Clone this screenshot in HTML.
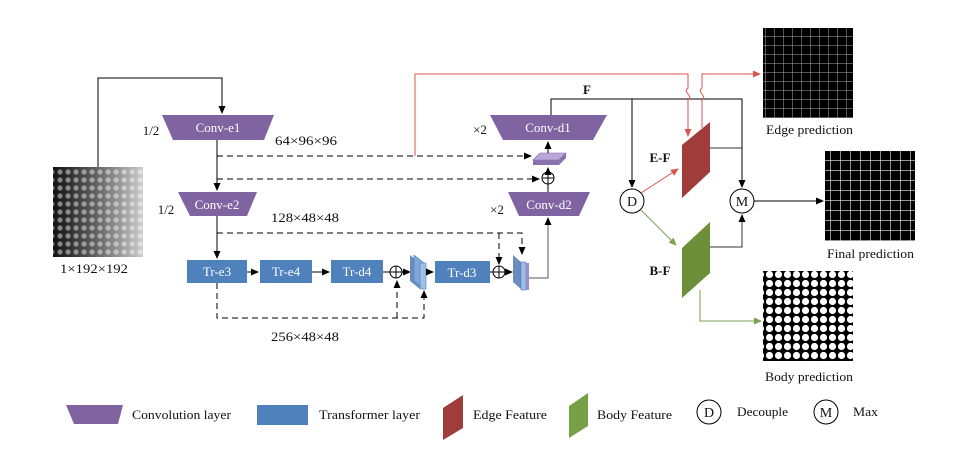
<!DOCTYPE html>
<html><head><meta charset="utf-8"><style>
html,body{margin:0;padding:0;background:#fff}
svg{display:block}
text{font-family:"Liberation Serif",serif;font-size:13px;fill:#111}
</style></head><body>
<svg width="965" height="461" viewBox="0 0 965 461" xmlns="http://www.w3.org/2000/svg">
<defs>
<marker id="a" markerWidth="8" markerHeight="8" refX="7" refY="4" orient="auto" markerUnits="userSpaceOnUse"><path d="M0,0.5 L8,4 L0,7.5z" fill="#000"/></marker>
<marker id="ar" markerWidth="8" markerHeight="8" refX="7" refY="4" orient="auto" markerUnits="userSpaceOnUse"><path d="M0,0.5 L8,4 L0,7.5z" fill="#d9534f"/></marker>
<marker id="ag" markerWidth="8" markerHeight="8" refX="7" refY="4" orient="auto" markerUnits="userSpaceOnUse"><path d="M0,0.5 L8,4 L0,7.5z" fill="#7aa050"/></marker>
<linearGradient id="gin" x1="0" x2="1"><stop offset="0" stop-color="#111"/><stop offset="0.5" stop-color="#666"/><stop offset="1" stop-color="#ccc"/></linearGradient>
<pattern id="pin" width="8" height="8" patternUnits="userSpaceOnUse"><circle cx="4" cy="4" r="2.6" fill="#fff" opacity="0.45"/></pattern>
<pattern id="pe" width="9" height="9" patternUnits="userSpaceOnUse"><rect width="9" height="9" fill="#000"/><path d="M0,0H9M0,0V9" stroke="#aaa" stroke-width="1"/></pattern>
<pattern id="pf" width="10" height="10" patternUnits="userSpaceOnUse"><rect width="10" height="10" fill="#000"/><path d="M0,0H10M0,0V10" stroke="#eee" stroke-width="1.2"/></pattern>
<pattern id="pb" width="9" height="9" patternUnits="userSpaceOnUse"><rect width="9" height="9" fill="#000"/><circle cx="4.5" cy="4.5" r="3.6" fill="#fff"/></pattern>
</defs>

<!-- input -->
<rect x="53" y="167" width="90" height="90" fill="url(#gin)"/>
<rect x="53" y="167" width="90" height="90" fill="url(#pin)"/>
<text x="60" y="273" textLength="68" lengthAdjust="spacingAndGlyphs">1×192×192</text>
<path d="M98,167 V78 H222 V113" fill="none" stroke="#000" marker-end="url(#a)"/>

<!-- conv e1 -->
<polygon points="162,115 274,115 264,140 173,140" fill="#8064a2"/>
<text x="218" y="132" text-anchor="middle" style="fill:#fff">Conv-e1</text>
<text x="151" y="135" text-anchor="middle">1/2</text>
<text x="275" y="145" textLength="62" lengthAdjust="spacingAndGlyphs">64×96×96</text>
<path d="M217,140 V190" stroke="#000" marker-end="url(#a)"/>
<path d="M217,156 H531" stroke="#000" stroke-dasharray="6,4" marker-end="url(#a)"/>
<path d="M217,179 H539" stroke="#000" stroke-dasharray="6,4" marker-end="url(#a)"/>

<!-- conv e2 -->
<polygon points="178,192 257,192 247,216 190,216" fill="#8064a2"/>
<text x="217" y="209" text-anchor="middle" style="fill:#fff">Conv-e2</text>
<text x="166" y="214" text-anchor="middle">1/2</text>
<text x="271" y="222" textLength="68" lengthAdjust="spacingAndGlyphs">128×48×48</text>
<path d="M217,216 V258" stroke="#000" marker-end="url(#a)"/>
<path d="M217,233 H522 V254" fill="none" stroke="#000" stroke-dasharray="6,4" marker-end="url(#a)"/>
<path d="M499,233 V264" fill="none" stroke="#000" stroke-dasharray="6,4" marker-end="url(#a)"/>

<!-- transformer row -->
<rect x="187" y="260" width="60" height="23" fill="#4f81bd"/><text x="217" y="276" text-anchor="middle" style="fill:#fff">Tr-e3</text>
<rect x="260" y="260" width="52" height="23" fill="#4f81bd"/><text x="286" y="276" text-anchor="middle" style="fill:#fff">Tr-e4</text>
<rect x="331" y="260" width="52" height="23" fill="#4f81bd"/><text x="357" y="276" text-anchor="middle" style="fill:#fff">Tr-d4</text>
<path d="M247,272 H258" stroke="#000" marker-end="url(#a)"/>
<path d="M312,272 H329" stroke="#000" marker-end="url(#a)"/>
<path d="M383,272 H390" stroke="#000"/>
<circle cx="396" cy="272" r="6" fill="#fff" stroke="#000"/><path d="M390,272H402M396,266V278" stroke="#000"/>
<path d="M402,272 H410" stroke="#000" marker-end="url(#a)"/>
<polygon points="410,255 420,263 420,289 410,281" fill="#6a8cbf"/>
<polygon points="414,255 424,263 424,289 414,281" fill="#7fa6d9" stroke="#4f81bd" stroke-width="0.6"/>
<rect x="420" y="263" width="6" height="26" fill="#9cbfe8" stroke="#4f81bd" stroke-width="0.6"/>
<path d="M426,272 H433" stroke="#000" marker-end="url(#a)"/>
<rect x="435" y="261" width="55" height="22" fill="#4f81bd"/><text x="462" y="277" text-anchor="middle" style="fill:#fff">Tr-d3</text>
<path d="M490,272 H493" stroke="#000"/>
<circle cx="499" cy="272" r="6" fill="#fff" stroke="#000"/><path d="M493,272H505M499,266V278" stroke="#000"/>
<path d="M505,272 H512" stroke="#000" marker-end="url(#a)"/>
<polygon points="513,255 522,263 522,290 513,282" fill="#6a8cbf"/>
<rect x="521" y="262" width="5" height="28" fill="#9cbfe8" stroke="#4f81bd" stroke-width="0.6"/>
<rect x="526" y="263" width="3" height="27" fill="#a58bc9"/>
<path d="M529,278 H548 V218" fill="none" stroke="#555" marker-end="url(#a)"/>
<path d="M217,283 V318 H424 V291" fill="none" stroke="#000" stroke-dasharray="6,4" marker-end="url(#a)"/>
<path d="M397,318 V281" fill="none" stroke="#000" stroke-dasharray="6,4" marker-end="url(#a)"/>
<text x="271" y="341" textLength="68" lengthAdjust="spacingAndGlyphs">256×48×48</text>

<!-- decoder -->
<polygon points="508,192 590,192 579,216 519,216" fill="#8064a2"/>
<text x="549" y="209" text-anchor="middle" style="fill:#fff">Conv-d2</text>
<text x="497" y="214" text-anchor="middle">×2</text>
<path d="M548,192 V184" stroke="#000"/>
<circle cx="548" cy="178" r="6" fill="#fff" stroke="#000"/><path d="M542,178H554M548,172V184" stroke="#000"/>
<path d="M548,172 V168" stroke="#000" marker-end="url(#a)"/>
<polygon points="533,160 540,153 566,153 559,160" fill="#b9a7d8" stroke="#8064a2" stroke-width="0.6"/>
<polygon points="533,160 559,160 566,153 566,158 559,165 533,165" fill="#8a72b0"/>
<path d="M548,153 V142" stroke="#000" marker-end="url(#a)"/>
<polygon points="490,115 607,115 593,140 503,140" fill="#8064a2"/>
<text x="548" y="132" text-anchor="middle" style="fill:#fff">Conv-d1</text>
<text x="480" y="134" text-anchor="middle">×2</text>
<path d="M551,115 V99 H742 V187" fill="none" stroke="#000" marker-end="url(#a)"/>
<path d="M632,99 V187" fill="none" stroke="#000" marker-end="url(#a)"/>
<text x="587" y="94" text-anchor="middle" style="font-weight:bold">F</text>

<!-- red lines -->
<path d="M415,156 V74 H688 V88 C682,92 694,96 688,100 V136" fill="none" stroke="#d9534f" marker-end="url(#ar)"/>
<path d="M702,128 V100 C708,96 696,92 702,88 V74 H760" fill="none" stroke="#d9534f" marker-end="url(#ar)"/>

<!-- E-F, B-F -->
<polygon points="682,145 710,122 710,172 682,198" fill="#a03c3a"/>
<text x="660" y="162" text-anchor="middle" style="font-weight:bold">E-F</text>
<path d="M710,148 H742" stroke="#333"/>
<polygon points="682,248 710,222 710,273 682,298" fill="#6e8f3a"/>
<text x="660" y="275" text-anchor="middle" style="font-weight:bold">B-F</text>
<path d="M710,247 H742 V215" fill="none" stroke="#333" marker-end="url(#a)"/>
<path d="M700,290 V321 H761" fill="none" stroke="#7aa050" marker-end="url(#ag)"/>

<circle cx="632" cy="201" r="12" fill="#fff" stroke="#000"/><text x="632" y="206" text-anchor="middle" style="font-size:14px">D</text>
<path d="M641,193 L678,169" stroke="#d9534f" marker-end="url(#ar)"/>
<path d="M641,210 L676,245" stroke="#7aa050" marker-end="url(#ag)"/>
<circle cx="742" cy="201" r="12" fill="#fff" stroke="#000"/><text x="742" y="206" text-anchor="middle" style="font-size:14px">M</text>
<path d="M754,201 H823" stroke="#000" marker-end="url(#a)"/>

<!-- outputs -->
<rect x="763" y="28" width="90" height="90" fill="url(#pe)"/>
<text x="766" y="134" textLength="87" lengthAdjust="spacingAndGlyphs">Edge prediction</text>
<rect x="825" y="151" width="90" height="90" fill="url(#pf)"/>
<text x="827" y="258" textLength="87" lengthAdjust="spacingAndGlyphs">Final prediction</text>
<rect x="763" y="271" width="90" height="90" fill="url(#pb)"/>
<text x="765" y="381" textLength="88" lengthAdjust="spacingAndGlyphs">Body prediction</text>

<!-- legend -->
<polygon points="66,405 123,405 118,424 74,424" fill="#8064a2"/>
<text x="132" y="419" textLength="99" lengthAdjust="spacingAndGlyphs">Convolution layer</text>
<rect x="257" y="405" width="51" height="20" fill="#4f81bd"/>
<text x="319" y="419" textLength="101" lengthAdjust="spacingAndGlyphs">Transformer layer</text>
<polygon points="443,408 463,395 463,428 443,440" fill="#a03c3a"/>
<text x="473" y="419" textLength="74" lengthAdjust="spacingAndGlyphs">Edge Feature</text>
<polygon points="569,406 588,393 588,426 569,438" fill="#77a046"/>
<text x="597" y="419" textLength="75" lengthAdjust="spacingAndGlyphs">Body Feature</text>
<circle cx="709" cy="412" r="12" fill="#fff" stroke="#000"/><text x="709" y="417" text-anchor="middle" style="font-size:14px">D</text>
<text x="737" y="416" textLength="51" lengthAdjust="spacingAndGlyphs">Decouple</text>
<circle cx="826" cy="412" r="12" fill="#fff" stroke="#000"/><text x="826" y="417" text-anchor="middle" style="font-size:14px">M</text>
<text x="853" y="416" textLength="25" lengthAdjust="spacingAndGlyphs">Max</text>
</svg>
</body></html>
